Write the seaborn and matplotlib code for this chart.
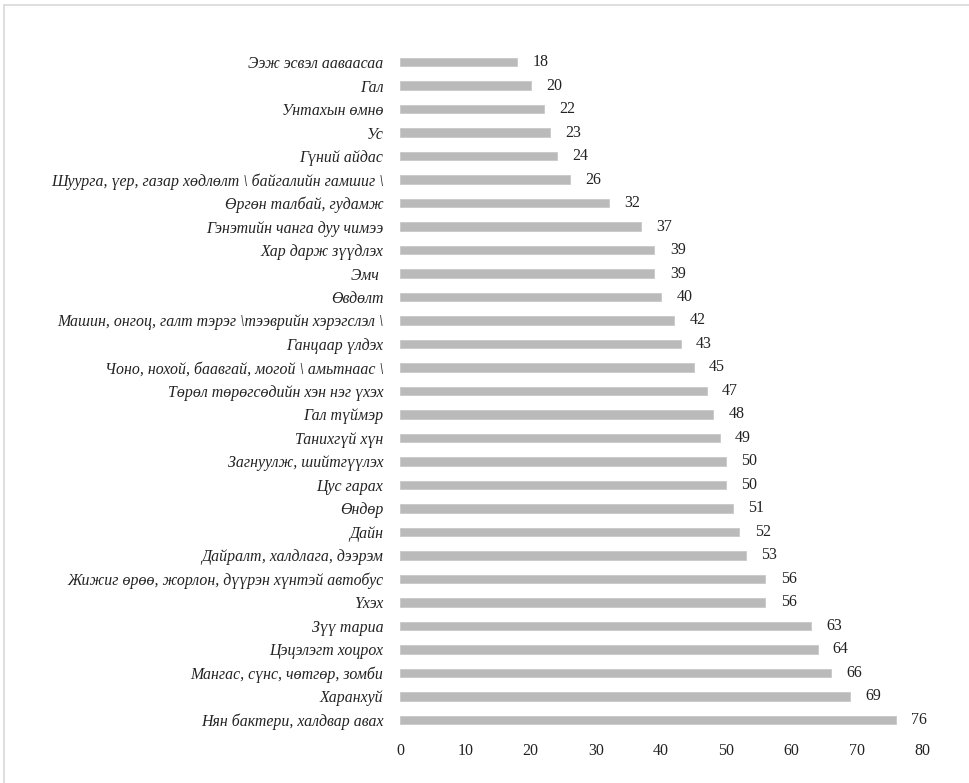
import matplotlib
matplotlib.use("Agg")
import matplotlib.pyplot as plt
import seaborn as sns
import pandas as pd
from matplotlib.lines import Line2D

# Categories, top to bottom as shown
categories = [
    "Ээж эсвэл ааваасаа",
    "Гал",
    "Унтахын өмнө",
    "Ус",
    "Гүний айдас",
    "Шуурга, үер, газар хөдлөлт \\ байгалийн гамшиг \\",
    "Өргөн талбай, гудамж",
    "Гэнэтийн чанга дуу чимээ",
    "Хар дарж зүүдлэх",
    "Эмч ",
    "Өвдөлт",
    "Машин, онгоц, галт тэрэг \\тээврийн хэрэгслэл \\",
    "Ганцаар үлдэх",
    "Чоно, нохой, баавгай, могой \\ амьтнаас \\",
    "Төрөл төрөгсөдийн хэн нэг үхэх",
    "Гал түймэр",
    "Танихгүй хүн",
    "Загнуулж, шийтгүүлэх",
    "Цус гарах",
    "Өндөр",
    "Дайн",
    "Дайралт, халдлага, дээрэм",
    "Жижиг өрөө, жорлон, дүүрэн хүнтэй автобус",
    "Үхэх",
    "Зүү тариа",
    "Цэцэлэгт хоцрох",
    "Мангас, сүнс, чөтгөр, зомби",
    "Харанхуй",
    "Нян бактери, халдвар авах",
]
values = [18, 20, 22, 23, 24, 26, 32, 37, 39, 39, 40, 42, 43, 45, 47, 48,
          49, 50, 50, 51, 52, 53, 56, 56, 63, 64, 66, 69, 76]
x_ticks = [0, 10, 20, 30, 40, 50, 60, 70, 80]

df = pd.DataFrame({"label": categories, "value": values})

sns.set_theme(style="white")
plt.rcParams["font.family"] = ["Liberation Serif", "DejaVu Serif"]

fig = plt.figure(figsize=(9.7, 7.83), dpi=100)
ax = fig.add_axes([0.4124, 0.0655, 0.5381, 0.8703])

sns.barplot(data=df, x="value", y="label", orient="h", color="#bababa",
            width=0.36, saturation=1, edgecolor="#c8c8c8", linewidth=0.6, ax=ax)

for i, v in enumerate(values):
    ax.annotate(str(v), xy=(v, i), xytext=(11, 0), textcoords="offset points",
                va="center", ha="left", fontsize=11.5, color="#222222")

ax.set_xlim(0, 80)
ax.set_ylim(len(values) - 0.5, -0.5)
ax.set_xticks(x_ticks)
ax.set_xticklabels([str(t) for t in x_ticks], fontsize=11.5, color="#222222")
ax.set_yticks(range(len(categories)))
ax.set_yticklabels(categories, fontsize=11.4, style="italic", color="#222222")
ax.tick_params(axis="y", length=0, pad=12)
ax.tick_params(axis="x", length=0, pad=8)
ax.set_xlabel("")
ax.set_ylabel("")
for s in ax.spines.values():
    s.set_visible(False)

# light frame on top and left edges
fig.add_artist(Line2D([0.0045, 1.0], [0.994, 0.994], color="#d9d9d9", lw=1.2,
                      transform=fig.transFigure))
fig.add_artist(Line2D([0.0045, 0.0045], [0.0, 0.994], color="#d9d9d9", lw=1.2,
                      transform=fig.transFigure))

fig.savefig("out.png", dpi=100)
